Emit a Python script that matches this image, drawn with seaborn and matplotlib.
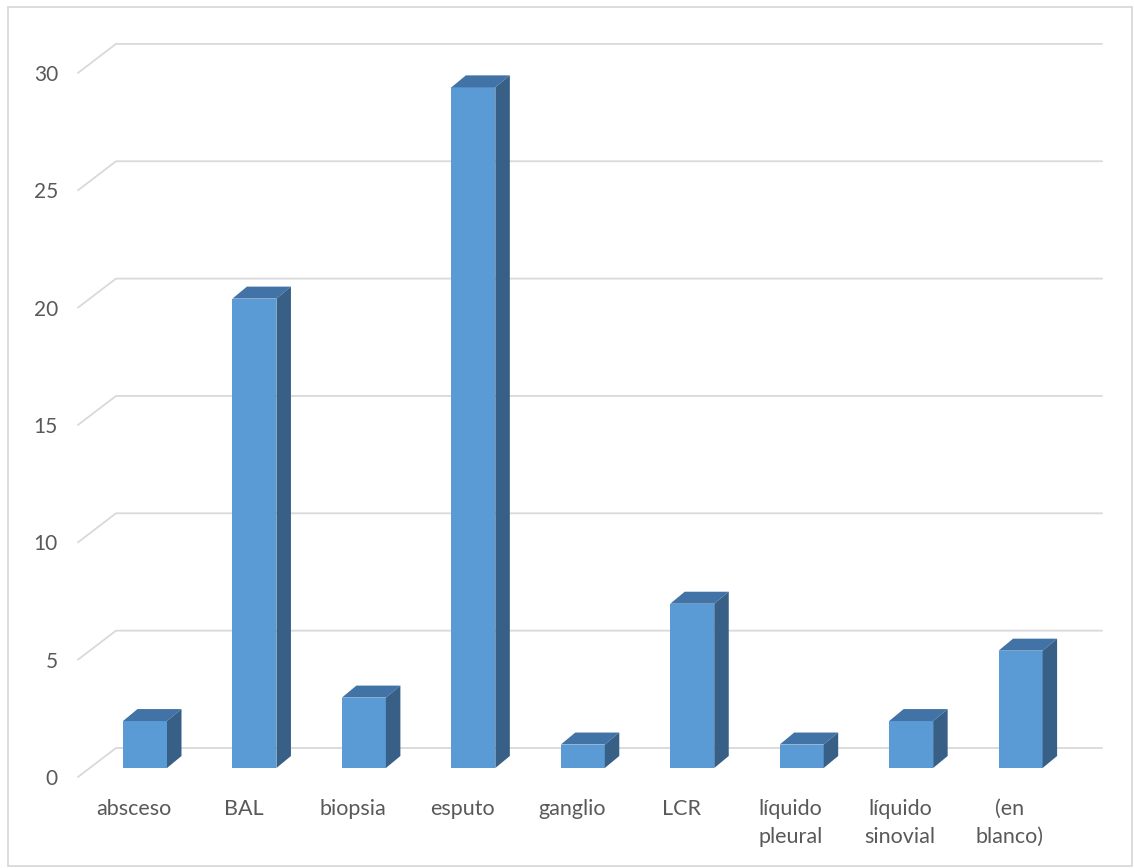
import matplotlib
matplotlib.use("Agg")
import matplotlib.pyplot as plt
from matplotlib.patches import Polygon, Rectangle
import seaborn as sns
import pandas as pd

# data
categories = ["absceso", "BAL", "biopsia", "esputo", "ganglio", "LCR",
              "líquido\npleural", "líquido\nsinovial", "(en\nblanco)"]
values = [2, 20, 3, 29, 1, 7, 1, 2, 5]
yticks = [0, 5, 10, 15, 20, 25, 30]

sns.set_theme(style="white")
plt.rcParams["font.family"] = ["Lato", "DejaVu Sans"]

# pixel geometry of the excel-like 3d look
px_x = 109.45      # pixels per category
px_y = 23.47       # pixels per unit
x0_px, y0_px = 145, 768   # centre of first bar, bar base

def dx(p):
    return p / px_x

def dy(p):
    return p / px_y

fig = plt.figure(figsize=(11.34, 8.68), dpi=100)
ax = fig.add_axes([0, 0, 1, 1])

df = pd.DataFrame({"cat": categories, "val": values})

# gridlines (front diagonal + back wall)
for t in yticks:
    xf, xb, xe = dx(78 - x0_px), dx(116 - x0_px), dx(1102 - x0_px)
    yf, yb = t - dy(9), t + dy(20)
    ax.plot([xf, xb, xe], [yf, yb, yb], color="#d9d9d9", lw=1.3, zorder=0)
    ax.text(dx(58 - x0_px), yf - dy(2), str(t), ha="right", va="center",
            fontsize=15, color="#595959")

w = 44 / px_x
sns.barplot(data=df, x="cat", y="val", color="#5b9bd5", saturation=1,
            width=w, ax=ax, zorder=2, linewidth=0)

ddx, ddy = dx(14.5), dy(12)
for i, v in enumerate(values):
    l, r = i - w / 2, i + w / 2
    top = Polygon([(l, v), (l + ddx, v + ddy), (r + ddx, v + ddy), (r, v)],
                  closed=True, facecolor="#4273a6", edgecolor="none", zorder=3)
    side = Polygon([(r, 0), (r + ddx, ddy), (r + ddx, v + ddy), (r, v)],
                   closed=True, facecolor="#386087", edgecolor="none", zorder=3)
    ax.add_patch(top)
    ax.add_patch(side)
    ax.text(i - dx(11), -dy(31), categories[i], ha="center", va="top",
            fontsize=15.5, color="#595959", linespacing=1.5)

ax.set_xlim(dx(-x0_px), dx(1134 - x0_px))
ax.set_ylim(-dy(868 - y0_px), dy(y0_px))
ax.axis("off")

fig.patches.append(Rectangle((8 / 1134, 2 / 868), 1124 / 1134, 859 / 868,
                             transform=fig.transFigure, fill=False,
                             edgecolor="#d9d9d9", lw=1.3))

fig.savefig("out.png", dpi=100)
